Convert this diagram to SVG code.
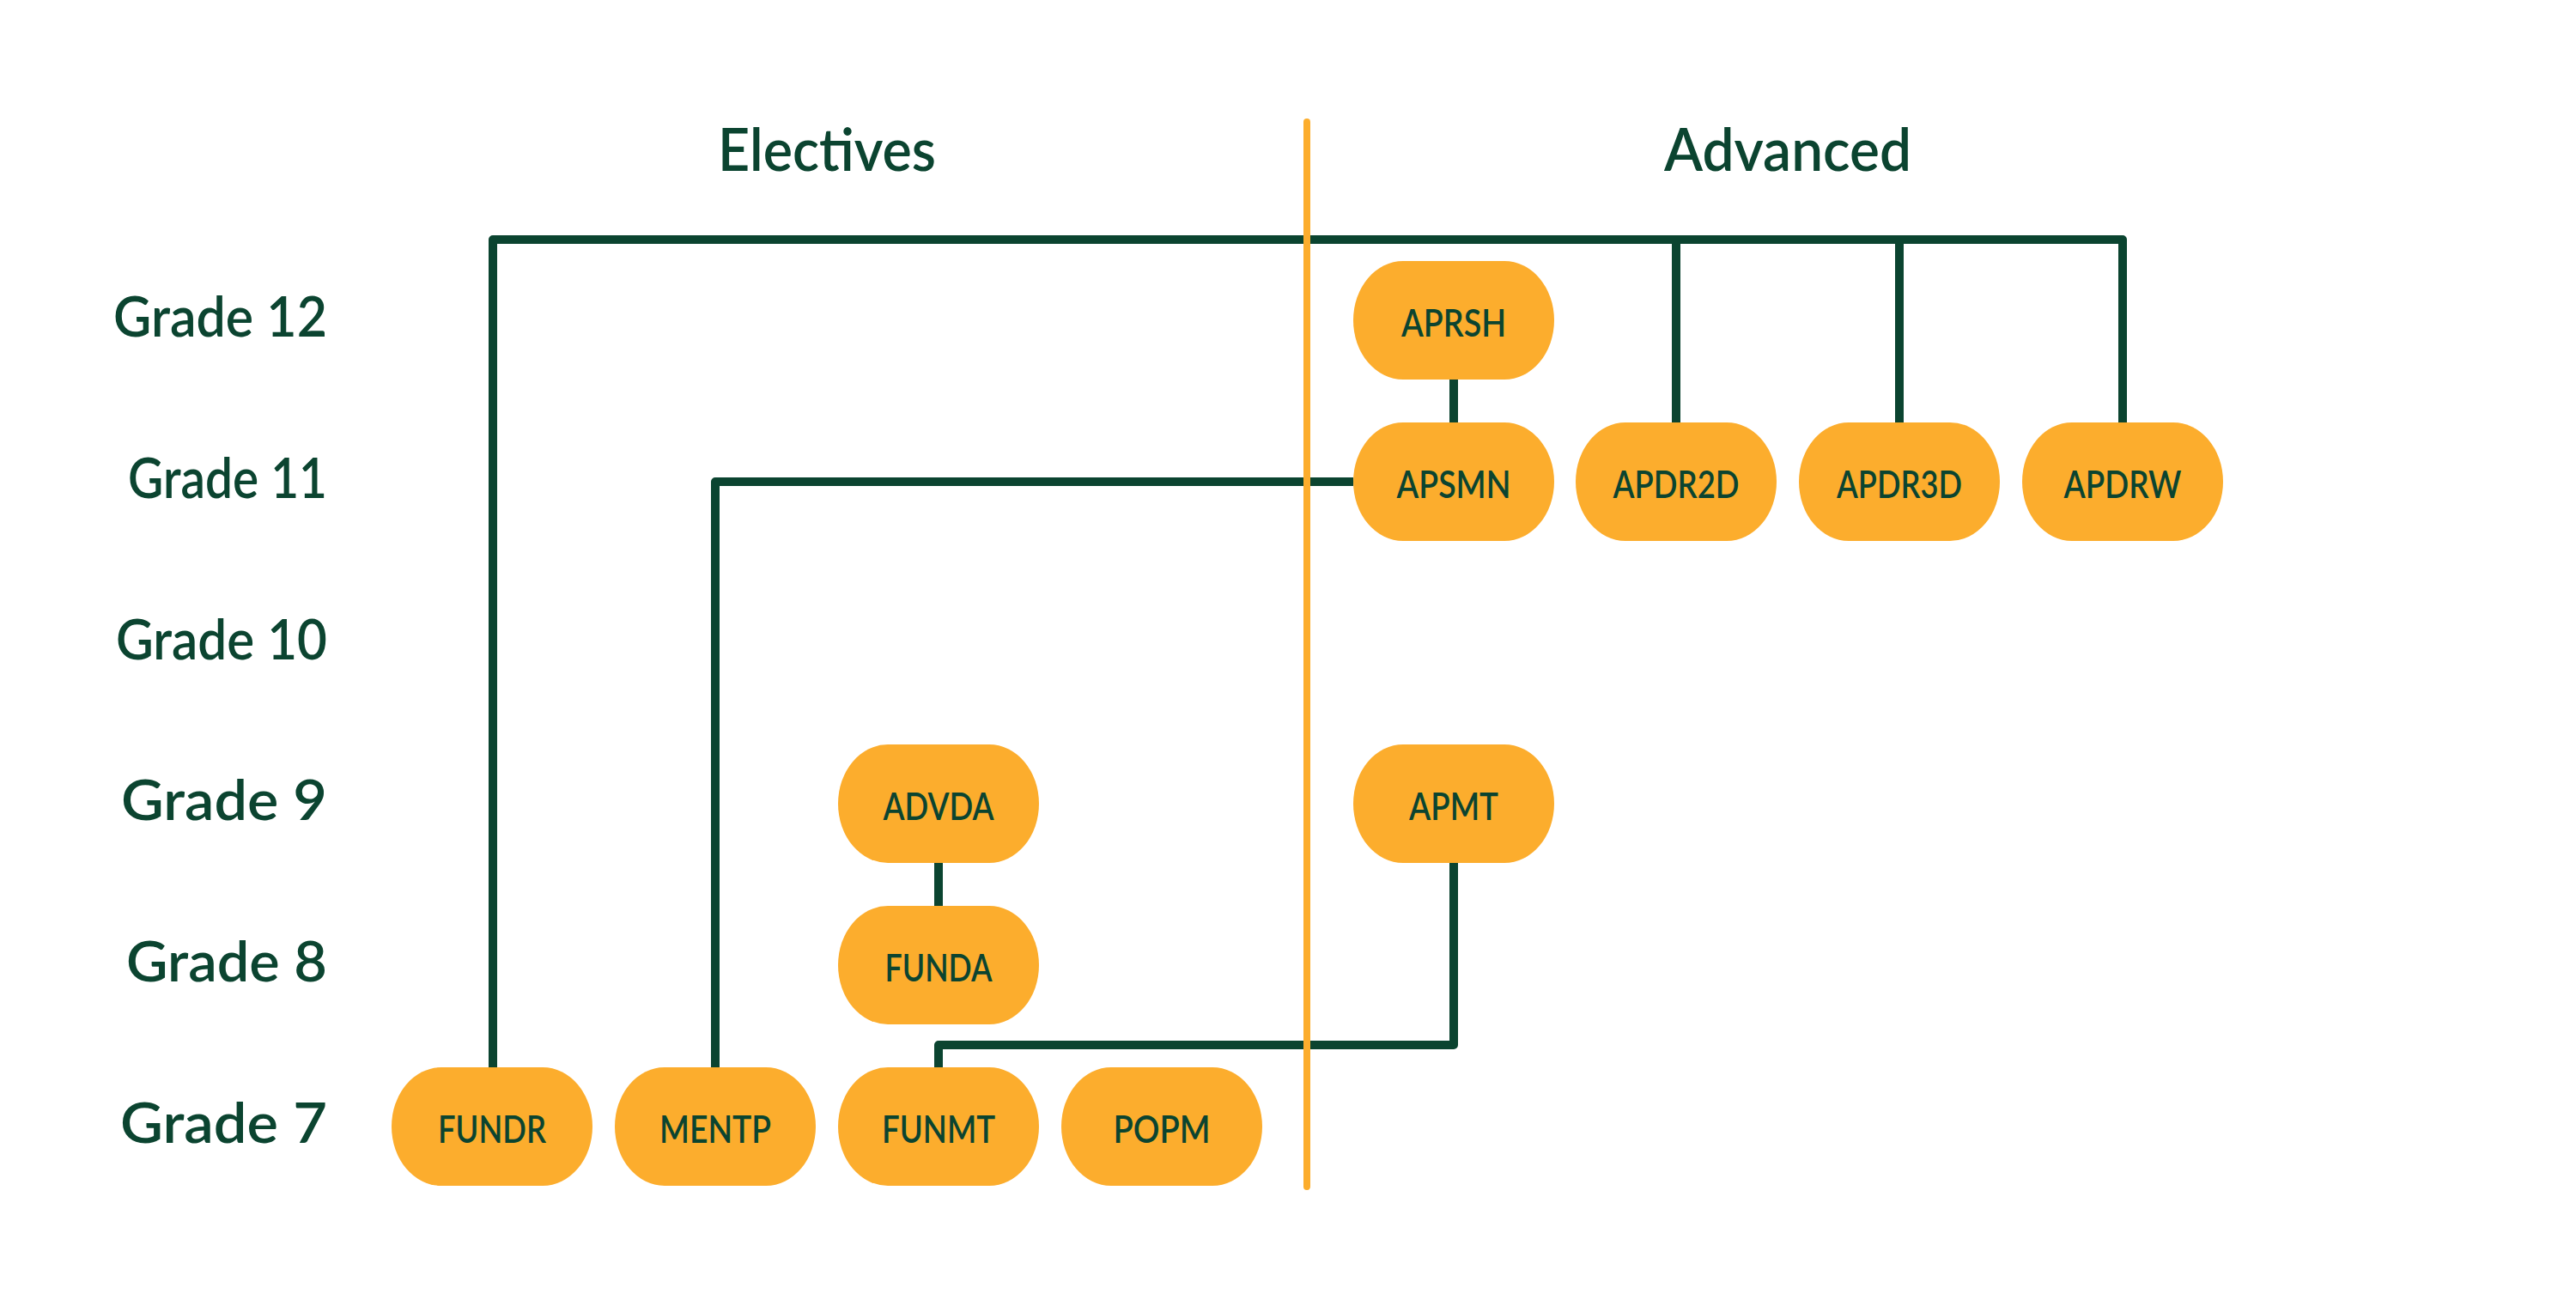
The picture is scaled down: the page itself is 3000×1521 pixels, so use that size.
<svg xmlns="http://www.w3.org/2000/svg" width="3000" height="1521" viewBox="0 0 3000 1521">
<style>
.bg{fill:#ffffff}
.node rect{fill:#FCAD2D}
.node text{font-family:Lato,"Open Sans",sans-serif;font-size:44px;font-weight:600;fill:#0B4430;text-anchor:middle}
.grade{font-family:Lato,"Open Sans",sans-serif;font-size:65px;font-weight:600;fill:#0B4430;text-anchor:end}
.head{font-family:Lato,"Open Sans",sans-serif;font-size:70px;font-weight:600;fill:#0B4430;text-anchor:middle}
.conn path{fill:none;stroke:#0B4430;stroke-width:10;stroke-linejoin:round}
.divider{stroke:#FCAD2D;stroke-width:8;stroke-linecap:round}
</style>
<rect class="bg" x="0" y="0" width="3000" height="1521"/>
<g id="headers">
<text class="head" x="963" y="199" textLength="254" lengthAdjust="spacingAndGlyphs">Electives</text>
<text class="head" x="2082" y="199" textLength="288" lengthAdjust="spacingAndGlyphs">Advanced</text>
</g>
<g id="grades">
<text class="grade" x="381" y="392" textLength="249" lengthAdjust="spacingAndGlyphs">Grade 12</text>
<text class="grade" x="381" y="580" textLength="232" lengthAdjust="spacingAndGlyphs">Grade 11</text>
<text class="grade" x="381" y="768" textLength="246" lengthAdjust="spacingAndGlyphs">Grade 10</text>
<text class="grade" x="381" y="955" textLength="240" lengthAdjust="spacingAndGlyphs">Grade 9</text>
<text class="grade" x="381" y="1143" textLength="234" lengthAdjust="spacingAndGlyphs">Grade 8</text>
<text class="grade" x="381" y="1331" textLength="241" lengthAdjust="spacingAndGlyphs">Grade 7</text>
</g>
<g id="connectors" class="conn">
<path d="M574,1243 V279 H2472 V492"/>
<path d="M1952,279 V492"/>
<path d="M2212,279 V492"/>
<path d="M833,1243 V561 H1576"/>
<path d="M1693,442 V492"/>
<path d="M1093,1005 V1055"/>
<path d="M1093,1243 V1217 H1693 V1005"/>
</g>
<line class="divider" x1="1522" y1="142" x2="1522" y2="1382"/>
<g id="node-APRSH" class="node"><rect x="1576" y="304" width="234" height="138" rx="58" ry="69"/><text x="1693" y="392" textLength="122" lengthAdjust="spacingAndGlyphs">APRSH</text></g>
<g id="node-APSMN" class="node"><rect x="1576" y="492" width="234" height="138" rx="58" ry="69"/><text x="1693" y="580" textLength="133" lengthAdjust="spacingAndGlyphs">APSMN</text></g>
<g id="node-APDR2D" class="node"><rect x="1835" y="492" width="234" height="138" rx="58" ry="69"/><text x="1952" y="580" textLength="147" lengthAdjust="spacingAndGlyphs">APDR2D</text></g>
<g id="node-APDR3D" class="node"><rect x="2095" y="492" width="234" height="138" rx="58" ry="69"/><text x="2212" y="580" textLength="146" lengthAdjust="spacingAndGlyphs">APDR3D</text></g>
<g id="node-APDRW" class="node"><rect x="2355" y="492" width="234" height="138" rx="58" ry="69"/><text x="2472" y="580" textLength="137" lengthAdjust="spacingAndGlyphs">APDRW</text></g>
<g id="node-APMT" class="node"><rect x="1576" y="867" width="234" height="138" rx="58" ry="69"/><text x="1693" y="955" textLength="104" lengthAdjust="spacingAndGlyphs">APMT</text></g>
<g id="node-ADVDA" class="node"><rect x="976" y="867" width="234" height="138" rx="58" ry="69"/><text x="1093" y="955" textLength="129" lengthAdjust="spacingAndGlyphs">ADVDA</text></g>
<g id="node-FUNDA" class="node"><rect x="976" y="1055" width="234" height="138" rx="58" ry="69"/><text x="1093" y="1143" textLength="125" lengthAdjust="spacingAndGlyphs">FUNDA</text></g>
<g id="node-FUNDR" class="node"><rect x="456" y="1243" width="234" height="138" rx="58" ry="69"/><text x="573" y="1331" textLength="126" lengthAdjust="spacingAndGlyphs">FUNDR</text></g>
<g id="node-MENTP" class="node"><rect x="716" y="1243" width="234" height="138" rx="58" ry="69"/><text x="833" y="1331" textLength="130" lengthAdjust="spacingAndGlyphs">MENTP</text></g>
<g id="node-FUNMT" class="node"><rect x="976" y="1243" width="234" height="138" rx="58" ry="69"/><text x="1093" y="1331" textLength="132" lengthAdjust="spacingAndGlyphs">FUNMT</text></g>
<g id="node-POPM" class="node"><rect x="1236" y="1243" width="234" height="138" rx="58" ry="69"/><text x="1353" y="1331" textLength="113" lengthAdjust="spacingAndGlyphs">POPM</text></g>
</svg>
